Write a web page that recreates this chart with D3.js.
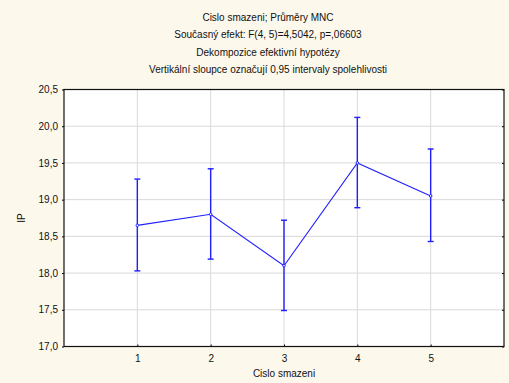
<!DOCTYPE html>
<html>
<head>
<meta charset="utf-8">
<script src="https://cdn.jsdelivr.net/npm/d3@7"></script>
<style>
  html, body { margin: 0; padding: 0; background: #fdf8ec; }
  svg { display: block; }
  text { font-family: Arial, "Liberation Sans", sans-serif; fill: #111; }
</style>
</head>
<body>
<svg id="chart" width="509" height="383"></svg>
<script>
// Group means and 95 % confidence limits of IP per "Cislo smazeni"
const groups = [1, 2, 3, 4, 5];
const means  = [18.65, 18.80, 18.10, 19.50, 19.05];
const lower  = [18.03, 18.19, 17.49, 18.89, 18.43];
const upper  = [19.28, 19.42, 18.72, 20.12, 19.69];
const yTicks = [17.0, 17.5, 18.0, 18.5, 19.0, 19.5, 20.0, 20.5];

const titleLines = [
  "Cislo smazeni; Průměry MNC",
  "Současný efekt: F(4, 5)=4,5042, p=,06603",
  "Dekompozice efektivní hypotézy",
  "Vertikální  sloupce označují  0,95 intervaly spolehlivosti"
];

const W = 509, H = 383;
const m = { left: 64, right: 5, top: 89.5, bottom: 36.5 };
const svg = d3.select("#chart");

const x = d3.scaleLinear().domain([0, 6]).range([m.left, W - m.right]);
const y = d3.scaleLinear().domain([17, 20.5]).range([H - m.bottom, m.top]);

const fmt = v => d3.format(".1f")(v).replace(".", ",");

// plot area
svg.append("rect")
  .attr("x", m.left).attr("y", m.top)
  .attr("width", x(6) - x(0)).attr("height", y(17) - y(20.5))
  .attr("fill", "#fff");

// grid
svg.append("g").selectAll("line").data(yTicks.slice(1, -1)).join("line")
  .attr("x1", x(0)).attr("x2", x(6))
  .attr("y1", d => y(d)).attr("y2", d => y(d))
  .attr("stroke", "#d9d9d9").attr("stroke-width", 1);
svg.append("g").selectAll("line").data(groups).join("line")
  .attr("x1", d => x(d)).attr("x2", d => x(d))
  .attr("y1", y(17)).attr("y2", y(20.5))
  .attr("stroke", "#d9d9d9").attr("stroke-width", 1);

// axes
const yAxis = d3.axisLeft(y).tickValues(yTicks).tickFormat(fmt).tickSize(2).tickPadding(4);
const gy = svg.append("g").attr("transform", `translate(${m.left},0)`).call(yAxis);
gy.select(".domain").remove();
gy.selectAll("text").attr("font-size", 10).attr("font-family", "Arial, 'Liberation Sans', sans-serif");

const yAxisR = d3.axisLeft(y).tickValues(yTicks).tickFormat("").tickSize(2);
const gyr = svg.append("g").attr("transform", `translate(${x(6)},0)`).call(yAxisR);
gyr.select(".domain").remove();

const xAxis = d3.axisBottom(x).tickValues(groups).tickFormat(d3.format("d")).tickSizeInner(-2).tickSizeOuter(0).tickPadding(8);
const gx = svg.append("g").attr("transform", `translate(0,${y(17)})`).call(xAxis);
gx.select(".domain").remove();
gx.selectAll("text").attr("font-size", 10).attr("font-family", "Arial, 'Liberation Sans', sans-serif");

// frame
svg.append("rect")
  .attr("x", m.left).attr("y", m.top)
  .attr("width", x(6) - x(0)).attr("height", y(17) - y(20.5))
  .attr("fill", "none").attr("stroke", "#111").attr("stroke-width", 1.2);

// axis titles
svg.append("text")
  .attr("x", (x(0) + x(6)) / 2).attr("y", 377)
  .attr("text-anchor", "middle").attr("font-size", 10)
  .text("Cislo smazeni");
svg.append("text")
  .attr("transform", `translate(25,${(y(17) + y(20.5)) / 2}) rotate(-90)`)
  .attr("text-anchor", "middle").attr("font-size", 10)
  .text("IP");

// title block
svg.append("g").selectAll("text").data(titleLines).join("text")
  .attr("x", 268).attr("y", (d, i) => 21 + i * 17.3)
  .attr("text-anchor", "middle").attr("font-size", 10)
  .text(d => d);

// error bars
const blue = "#1f1fff";
const eb = svg.append("g").attr("stroke", blue).attr("stroke-width", 1.4).attr("fill", "none");
groups.forEach((g, i) => {
  eb.append("line").attr("x1", x(g)).attr("x2", x(g)).attr("y1", y(lower[i])).attr("y2", y(upper[i]));
  eb.append("line").attr("x1", x(g) - 3).attr("x2", x(g) + 3).attr("y1", y(lower[i])).attr("y2", y(lower[i]));
  eb.append("line").attr("x1", x(g) - 3).attr("x2", x(g) + 3).attr("y1", y(upper[i])).attr("y2", y(upper[i]));
});

// mean line
const line = d3.line().x((d, i) => x(groups[i])).y(d => y(d));
svg.append("path").datum(means).attr("d", line)
  .attr("fill", "none").attr("stroke", blue).attr("stroke-width", 1.1);
svg.append("g").selectAll("circle").data(means).join("circle")
  .attr("cx", (d, i) => x(groups[i])).attr("cy", d => y(d)).attr("r", 1.3)
  .attr("fill", "#fff").attr("stroke", blue).attr("stroke-width", 1);
</script>
</body>
</html>
